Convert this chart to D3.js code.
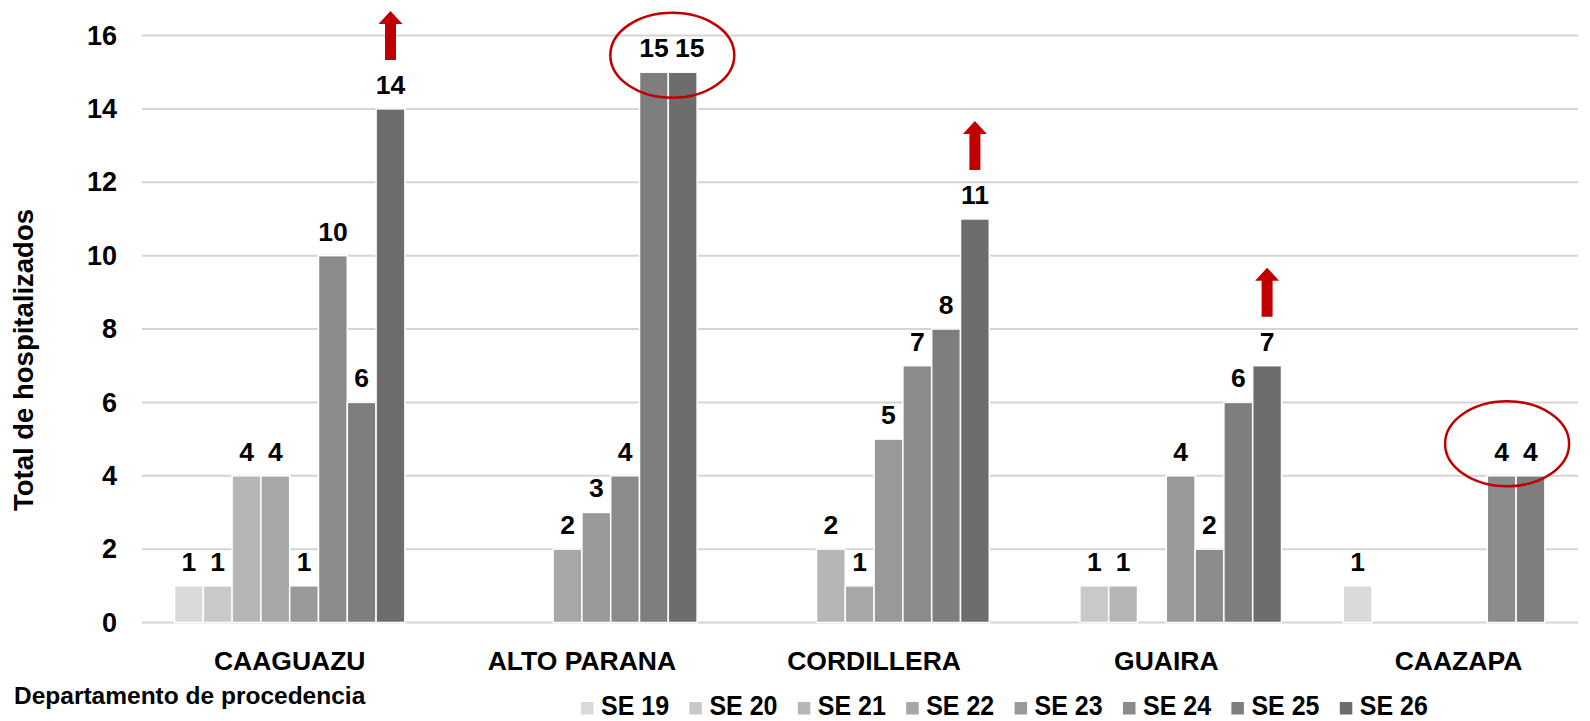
<!DOCTYPE html>
<html>
<head>
<meta charset="utf-8">
<script src="https://cdn.jsdelivr.net/npm/d3@7"></script>
<style>
    html, body { margin: 0; padding: 0; background: #fff; }
    #chart { width: 1590px; height: 721px; }
    text { font-family: "Liberation Sans", Arial, sans-serif; font-weight: bold; fill: #000; }
</style>
</head>
<body>
<div id="chart"></div>
<script>
// Departments (x categories) and epidemiological weeks (series)
const departments = ["CAAGUAZU", "ALTO PARANA", "CORDILLERA", "GUAIRA", "CAAZAPA"];
const weeks = ["SE 19", "SE 20", "SE 21", "SE 22", "SE 23", "SE 24", "SE 25", "SE 26"];

// Values per week, one entry per department (0 = no bar)
const se19 = [1, 0, 0, 0, 1];
const se20 = [1, 0, 0, 1, 0];
const se21 = [4, 0, 2, 1, 0];
const se22 = [4, 2, 1, 0, 0];
const se23 = [1, 3, 5, 4, 0];
const se24 = [10, 4, 7, 2, 4];
const se25 = [6, 15, 8, 6, 4];
const se26 = [14, 15, 11, 7, 0];
const seriesValues = [se19, se20, se21, se22, se23, se24, se25, se26];

const weekColors = ["#dadada", "#c9c9c9", "#b6b6b6", "#a7a7a7", "#999999", "#8b8b8b", "#7e7e7e", "#6d6d6d"];

const yTicks = [0, 2, 4, 6, 8, 10, 12, 14, 16];

// Red annotations: arrows over a bar, ellipses around a pair of bars
const arrowMarks = [
    { dept: "CAAGUAZU", week: "SE 26" },
    { dept: "CORDILLERA", week: "SE 26" },
    { dept: "GUAIRA", week: "SE 26" }
];
const ellipseMarks = [
    { dept: "ALTO PARANA", weeks: ["SE 25", "SE 26"], dx: 4, dy: -17 },
    { dept: "CAAZAPA", weeks: ["SE 24", "SE 25"], dx: -9, dy: -32 }
];
// a label that was nudged sideways in the original
const labelNudges = [{ dept: "ALTO PARANA", week: "SE 26", dx: 7 }];

function createGroupedBarChart(selector) {
    const width = 1590, height = 721;
    const svg = d3.select(selector).append("svg")
        .attr("width", width)
        .attr("height", height);

    // Scales
    const x0 = d3.scaleBand()
        .domain(departments)
        .range([143.6, 1604.6])
        .padding(0);
    const x1 = d3.scaleBand()
        .domain(weeks)
        .range([0, x0.bandwidth()])
        .paddingInner(0)
        .paddingOuter(1.073);
    const y = d3.scaleLinear()
        .domain([0, 16])
        .range([622.5, 35.5]);
    const color = d3.scaleOrdinal().domain(weeks).range(weekColors);

    // Gridlines + y labels
    const grid = svg.append("g");
    grid.selectAll("line")
        .data(yTicks)
        .enter()
        .append("line")
        .attr("x1", 142)
        .attr("x2", 1578)
        .attr("y1", d => y(d))
        .attr("y2", d => y(d))
        .style("stroke", "#d4d4d4")
        .style("stroke-width", 2);

    const yAxis = svg.append("g")
        .attr("transform", "translate(117,0)")
        .call(d3.axisLeft(y).tickValues(yTicks).tickSize(0).tickPadding(0));
    yAxis.select(".domain").remove();
    yAxis.selectAll("text")
        .style("font-size", "27px")
        .style("font-family", "'Liberation Sans', Arial, sans-serif")
        .style("font-weight", "bold")
        .attr("fill", "#000");

    // Bars
    const rows = [];
    departments.forEach((dept, i) => {
        weeks.forEach((wk, j) => {
            rows.push({ dept, week: wk, value: seriesValues[j][i] });
        });
    });
    const nonZero = rows.filter(d => d.value > 0);

    svg.append("g").selectAll("rect")
        .data(nonZero)
        .enter()
        .append("rect")
        .attr("x", d => x0(d.dept) + x1(d.week))
        .attr("y", d => y(d.value))
        .attr("width", x1.bandwidth())
        .attr("height", d => y(0) - y(d.value))
        .style("fill", d => color(d.week))
        .style("stroke", "#fff")
        .style("stroke-width", 1.5);

    // Value labels
    const nudge = d => {
        const n = labelNudges.find(m => m.dept === d.dept && m.week === d.week);
        return n ? n.dx : 0;
    };
    svg.append("g").selectAll("text")
        .data(nonZero)
        .enter()
        .append("text")
        .attr("x", d => x0(d.dept) + x1(d.week) + x1.bandwidth() / 2 + nudge(d))
        .attr("y", d => y(d.value) - 15)
        .attr("text-anchor", "middle")
        .style("font-size", "26.5px")
        .text(d => d.value);

    // Category labels
    svg.append("g").selectAll("text")
        .data(departments)
        .enter()
        .append("text")
        .attr("x", d => x0(d) + x0.bandwidth() / 2)
        .attr("y", 670)
        .attr("text-anchor", "middle")
        .style("font-size", "26.5px")
        .text(d => d);

    // Axis titles
    svg.append("text")
        .attr("transform", "translate(33,360) rotate(-90)")
        .attr("text-anchor", "middle")
        .style("font-size", "27.5px")
        .text("Total de hospitalizados");

    svg.append("text")
        .attr("x", 14)
        .attr("y", 704)
        .style("font-size", "24.5px")
        .text("Departamento de procedencia");

    // Legend
    const legend = svg.append("g").selectAll("g")
        .data(weeks)
        .enter()
        .append("g")
        .attr("transform", (d, i) => `translate(${581 + i * 108.4},0)`);
    legend.append("rect")
        .attr("x", 0)
        .attr("y", 702)
        .attr("width", 12.5)
        .attr("height", 12.5)
        .style("fill", d => color(d));
    legend.append("text")
        .attr("transform", "translate(20,715) scale(1,1.1)")
        .style("font-size", "25px")
        .text(d => d);

    // Red arrows
    const red = "#c00000";
    svg.append("g").selectAll("path")
        .data(arrowMarks)
        .enter()
        .append("path")
        .attr("d", d => {
            const i = departments.indexOf(d.dept);
            const j = weeks.indexOf(d.week);
            const cx = x0(d.dept) + x1(d.week) + x1.bandwidth() / 2;
            const bottom = y(seriesValues[j][i]) - 49;
            const top = bottom - 49;
            const head = top + 13;
            return `M${cx - 5.5},${bottom}L${cx - 5.5},${head}L${cx - 12},${head}L${cx},${top}` +
                   `L${cx + 12},${head}L${cx + 5.5},${head}L${cx + 5.5},${bottom}Z`;
        })
        .style("fill", red);

    // Red ellipses
    svg.append("g").selectAll("ellipse")
        .data(ellipseMarks)
        .enter()
        .append("ellipse")
        .attr("cx", d => {
            const a = x0(d.dept) + x1(d.weeks[0]);
            const b = x0(d.dept) + x1(d.weeks[1]) + x1.bandwidth();
            return (a + b) / 2 + d.dx;
        })
        .attr("cy", d => {
            const i = departments.indexOf(d.dept);
            const top = d3.max(d.weeks, w => seriesValues[weeks.indexOf(w)][i]);
            return y(top) + d.dy;
        })
        .attr("rx", 62)
        .attr("ry", 42.5)
        .style("fill", "none")
        .style("stroke", red)
        .style("stroke-width", 2.5);
}

createGroupedBarChart("#chart");
</script>
</body>
</html>
